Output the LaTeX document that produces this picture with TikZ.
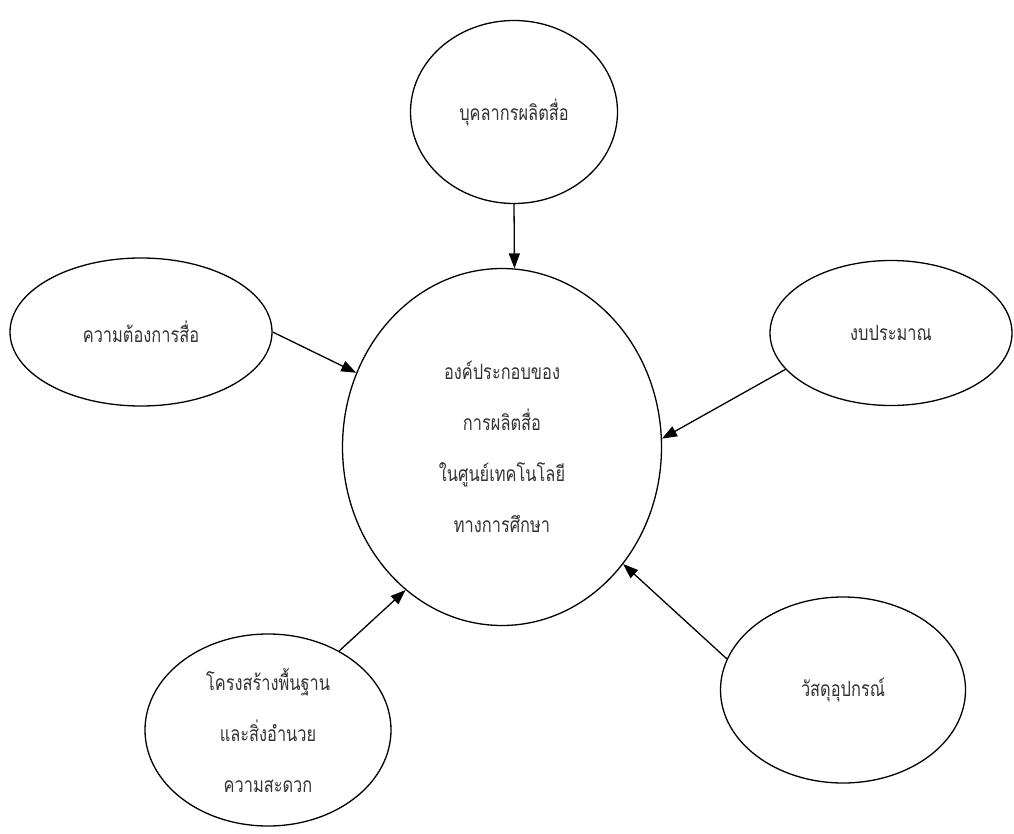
\documentclass[tikz,border=0pt]{standalone}
\usepackage{fontspec}
\newfontfamily\thaifont[Script=Thai,FakeStretch=0.78]{Loma}
\usetikzlibrary{shapes.geometric,arrows.meta}
\begin{document}
\begin{tikzpicture}[x=1pt,y=-1pt,
  bubble/.style={draw=black, line width=1.3pt, ellipse, inner sep=0pt,
    font=\thaifont\fontsize{21}{51}\selectfont, text=black!80, align=center},
  link/.style={draw=black, line width=1.3pt, -{Triangle[length=15pt,width=11pt]}}]
\useasboundingbox (0,0) rectangle (1014,834);

% outer factors
\node[bubble, minimum width=207pt, minimum height=183pt] (staff) at (514,112) {บุคลากรผลิตสื่อ};
\node[bubble, minimum width=262pt, minimum height=148pt] (need) at (141,332) {ความต้องการสื่อ};
\node[bubble, minimum width=242pt, minimum height=145pt] (budget) at (891,333) {งบประมาณ};
\node[bubble, minimum width=246pt, minimum height=192pt] (infra) at (268,730) {โครงสร้างพื้นฐาน\\และสิ่งอำนวย\\ความสะดวก};
\node[bubble, minimum width=245pt, minimum height=186pt] (material) at (843,690) {วัสดุอุปกรณ์};

% central concept
\node[bubble, minimum width=319pt, minimum height=357pt] (core) at (502,447) {องค์ประกอบของ\\การผลิตสื่อ\\ในศูนย์เทคโนโลยี\\ทางการศึกษา};

% connectors
\draw[link] (staff.south) -- (core.86);
\draw[link] (need.0) -- (core.153);
\draw[link] (budget.199) -- (core.3);
\draw[link] (infra.48) -- (core.236);
\draw[link] (material.165) -- (core.-44);
\end{tikzpicture}
\end{document}
